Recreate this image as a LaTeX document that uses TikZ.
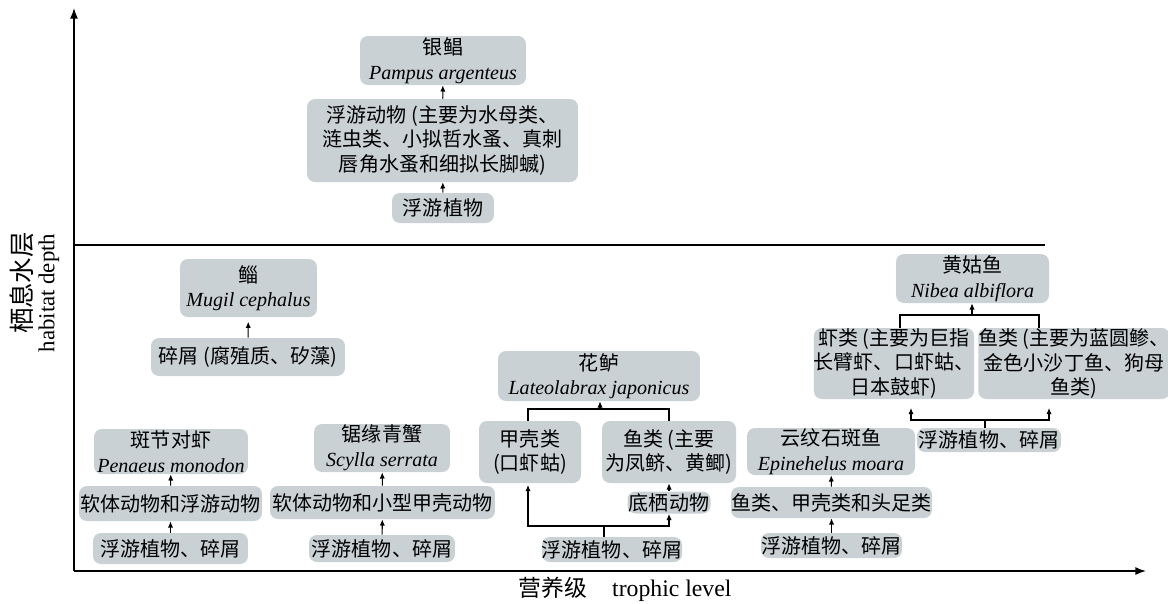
\documentclass[tikz,border=0pt]{standalone}
\usepackage{fontspec}
\setmainfont{Liberation Serif}
\newfontfamily\cjk{Noto Sans CJK SC}
\usetikzlibrary{arrows.meta}
\definecolor{boxgray}{RGB}{201,209,212}

\begin{document}
\begin{tikzpicture}[x=0.02cm, y=-0.02cm,
    taxon/.style={fill=boxgray, rounded corners=4.5pt, align=center, inner sep=0pt,
                  font=\cjk\fontsize{11.4}{14}\selectfont},
    feeds/.style={-{Latex[length=3.5pt,width=3pt]}, line width=0.6pt},
    axis/.style={-{Latex[length=6pt,width=4.5pt]}, line width=0.8pt}]

    \useasboundingbox (0,0) rectangle (1168,603);

    % axes and layer border
    \coordinate (origin) at (74,571);
    \coordinate (y_end) at (74,8);
    \coordinate (x_end) at (1146,571);
    \coordinate (border_left) at (74,245);
    \coordinate (border_right) at (1045,245);
    \draw[axis] (origin) -- (y_end);
    \draw[axis] (origin) -- (x_end);
    \draw[line width=0.8pt] (border_left) -- (border_right);

    \node[font=\cjk\fontsize{13}{15}\selectfont] (x_label) at (625,589)
         {营养级\hspace{1.1em}{\rmfamily\fontsize{13.5}{15}\selectfont trophic level}};
    \node[rotate=90, font=\cjk\fontsize{14.5}{16}\selectfont] (y_label) at (22,283) {栖息水层};
    \node[rotate=90, font=\fontsize{13}{15}\selectfont] (y_label_en) at (49,293) {habitat depth};

    % Pampus argenteus
    \node[taxon, minimum width=3.32cm, minimum height=0.98cm] (pampus) at (443,60.5)
         {银鲳\\{\rmfamily\itshape Pampus argenteus}};
    \node[taxon, minimum width=5.42cm, minimum height=1.66cm] (pampus_food) at (442.5,140.5)
         {浮游动物 (主要为水母类、\\涟虫类、小拟哲水蚤、真刺\\唇角水蚤和细拟长脚蝛)};
    \node[taxon, minimum width=2.04cm, minimum height=0.60cm] (pampus_base) at (443,208) {浮游植物};

    \path (pampus_base) edge[feeds] (pampus_food);
    \path (pampus_food) edge[feeds] (pampus);

    % Mugil cephalus
    \node[taxon, minimum width=2.74cm, minimum height=1.16cm] (mugil) at (248.5,288)
         {鲻\\{\rmfamily\itshape Mugil cephalus}};
    \node[taxon, minimum width=3.88cm, minimum height=0.76cm] (mugil_base) at (248,357)
         {碎屑 (腐殖质、矽藻)};

    \path (mugil_base) edge[feeds, shorten >=2.5pt] (mugil);

    % Penaeus monodon
    \node[taxon, minimum width=3.08cm, minimum height=0.90cm] (penaeus) at (171,451.5)
         {斑节对虾\\{\rmfamily\itshape Penaeus monodon}};
    \node[taxon, minimum width=3.66cm, minimum height=0.70cm] (penaeus_food) at (170.5,503.5)
         {软体动物和浮游动物};
    \node[taxon, minimum width=3.10cm, minimum height=0.62cm] (penaeus_base) at (170.5,548.5)
         {浮游植物、碎屑};

    \path (penaeus_base) edge[feeds] (penaeus_food);
    \path (penaeus_food) edge[feeds] (penaeus);

    % Scylla serrata
    \node[taxon, minimum width=2.72cm, minimum height=0.96cm] (scylla) at (382,448)
         {锯缘青蟹\\{\rmfamily\itshape Scylla serrata}};
    \node[taxon, minimum width=4.50cm, minimum height=0.66cm] (scylla_food) at (382.5,502.5)
         {软体动物和小型甲壳动物};
    \node[taxon, minimum width=2.92cm, minimum height=0.54cm] (scylla_base) at (382,548.5)
         {浮游植物、碎屑};

    \path (scylla_base) edge[feeds] (scylla_food);
    \path (scylla_food) edge[feeds] (scylla);

    % Lateolabrax japonicus
    \node[taxon, minimum width=4.04cm, minimum height=1.00cm] (lateo) at (599,376)
         {花鲈\\{\rmfamily\itshape Lateolabrax japonicus}};
    \node[taxon, minimum width=2.04cm, minimum height=1.24cm] (lateo_crust) at (530,452)
         {甲壳类\\(口虾蛄)};
    \node[taxon, minimum width=2.68cm, minimum height=1.24cm] (lateo_fish) at (669,452)
         {鱼类 (主要\\为凤鲚、黄鲫)};
    \node[taxon, minimum width=1.66cm, minimum height=0.44cm] (lateo_benthos) at (669,502.5)
         {底栖动物};
    \node[taxon, minimum width=2.80cm, minimum height=0.50cm] (lateo_base) at (612,549.5)
         {浮游植物、碎屑};

    \coordinate (lateo_low_stem) at (604,526);
    \coordinate (lateo_low_left) at (528,526);
    \coordinate (lateo_low_right) at (669,526);
    \coordinate (lateo_crust_in) at (528,485);
    \coordinate (lateo_up_left) at (528,409);
    \coordinate (lateo_up_right) at (669,409);
    \coordinate (lateo_up_mid) at (600,409);

    \draw[line width=0.6pt] (lateo_base.north -| lateo_low_stem) -- (lateo_low_stem);
    \draw[feeds] (lateo_low_right) -| (lateo_low_left) -- (lateo_crust_in);
    \draw[feeds] (lateo_low_left) -- (lateo_low_right) -- (lateo_benthos.south);
    \path (lateo_benthos) edge[feeds] (lateo_fish);
    \draw[line width=0.6pt] (lateo_crust.north -| lateo_up_left) -- (lateo_up_left)
         -- (lateo_up_right) -- (lateo_fish.north);
    \draw[feeds] (lateo_up_mid) -- (lateo.south -| lateo_up_mid);

    % Epinephelus moara
    \node[taxon, minimum width=3.36cm, minimum height=0.94cm] (epin) at (831,451.5)
         {云纹石斑鱼\\{\rmfamily\itshape Epinehelus moara}};
    \node[taxon, minimum width=4.02cm, minimum height=0.62cm] (epin_food) at (831.5,502.5)
         {鱼类、甲壳类和头足类};
    \node[taxon, minimum width=2.82cm, minimum height=0.50cm] (epin_base) at (831.5,545.5)
         {浮游植物、碎屑};

    \path (epin_base) edge[feeds] (epin_food);
    \path (epin_food) edge[feeds] (epin);

    % Nibea albiflora
    \node[taxon, minimum width=3.06cm, minimum height=0.98cm] (nibea) at (972.5,278.5)
         {黄姑鱼\\{\rmfamily\itshape Nibea albiflora}};
    \node[taxon, minimum width=3.12cm, minimum height=1.42cm] (nibea_shrimp) at (894,363.5)
         {虾类 (主要为巨指\\长臂虾、口虾蛄、\\日本鼓虾)};
    \node[taxon, minimum width=3.74cm, minimum height=1.42cm] (nibea_fish) at (1074,363.5)
         {鱼类 (主要为蓝圆鲹、\\金色小沙丁鱼、狗母\\鱼类)};
    \node[taxon, minimum width=2.88cm, minimum height=0.48cm] (nibea_base) at (989,440)
         {浮游植物、碎屑};

    \coordinate (nibea_low_stem) at (985,420);
    \coordinate (nibea_low_left) at (911,420);
    \coordinate (nibea_low_right) at (1049,420);
    \coordinate (nibea_shrimp_in) at (911,408);
    \coordinate (nibea_fish_in) at (1049,408);
    \coordinate (nibea_up_left) at (900,315);
    \coordinate (nibea_up_right) at (1039,315);
    \coordinate (nibea_up_mid) at (972,315);

    \draw[line width=0.6pt] (nibea_base.north -| nibea_low_stem) -- (nibea_low_stem);
    \draw[feeds] (nibea_low_right) -- (nibea_low_left) -- (nibea_shrimp_in);
    \draw[feeds] (nibea_low_left) -- (nibea_low_right) -- (nibea_fish_in);
    \draw[line width=0.6pt] (nibea_shrimp.north -| nibea_up_left) -- (nibea_up_left)
         -- (nibea_up_right) -- (nibea_fish.north -| nibea_up_right);
    \draw[feeds] (nibea_up_mid) -- (nibea.south -| nibea_up_mid);
\end{tikzpicture}
\end{document}
